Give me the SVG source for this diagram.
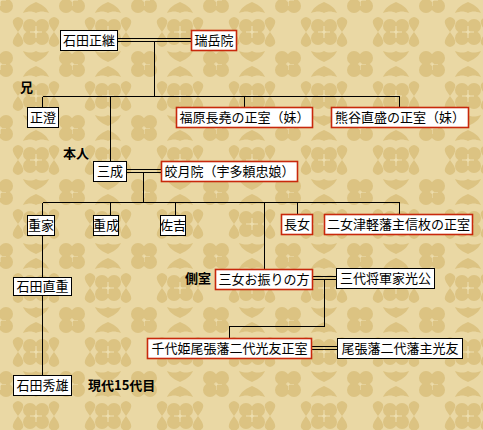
<svg xmlns="http://www.w3.org/2000/svg" width="483" height="430" viewBox="0 0 483 430">
<style>
.box{fill:#fff;stroke:#000;stroke-width:1}
.rbox{fill:#fff;stroke:#c8280c;stroke-width:1.6}
.t{font-family:"Noto Sans CJK JP","Noto Sans CJK SC",sans-serif;font-size:13px;fill:#000;text-anchor:middle}
.lbl{font-family:"Noto Sans CJK JP","Noto Sans CJK SC",serif;font-size:13px;font-weight:bold;fill:#000}
.ln{stroke:#000;stroke-width:1;fill:none;shape-rendering:crispEdges}
</style>
<defs>
<pattern id="bg" width="72" height="64" patternUnits="userSpaceOnUse">
<rect width="72" height="64" fill="#ead8a4"/>
<g fill="#dcc382">
<g id="fl"><circle cx="-6" cy="-6" r="7"/><circle cx="6" cy="-6" r="7"/><circle cx="-6" cy="6" r="7"/><circle cx="6" cy="6" r="7"/></g>
<use href="#fl" x="72" y="0"/><use href="#fl" x="0" y="64"/><use href="#fl" x="72" y="64"/>
<use href="#fl" x="36" y="32"/>
<path d="M18 32 c-7 -9 -7 -13 0 -15 c7 2 7 6 0 15z M54 32 c-7 -9 -7 -13 0 -15 c7 2 7 6 0 15z M18 32 c-7 9 -7 13 0 15 c7 -2 7 -6 0 -15z M54 32 c-7 9 -7 13 0 15 c7 -2 7 -6 0 -15z"/>
<path d="M36 2 c-9 4 -11 7 -13 11 c6 -2 9 -2 13 0 c4 -2 7 -2 13 0 c-2 -4 -4 -7 -13 -11z M36 62 c-9 -4 -11 -7 -13 -11 c6 2 9 2 13 0 c4 2 7 2 13 0 c-2 4 -4 7 -13 11z"/>
</g>
<g stroke="#efe0b2" stroke-width="1" fill="none">
<line x1="-6" y1="0" x2="6" y2="0"/><line x1="0" y1="-6" x2="0" y2="6"/>
<line x1="30" y1="32" x2="42" y2="32"/><line x1="36" y1="26" x2="36" y2="38"/>
</g>
</pattern>
</defs>
<rect width="483" height="430" fill="url(#bg)"/>

<g id="connectors" class="ln">
<line x1="118" y1="38.5" x2="191" y2="38.5"/>
<line x1="118" y1="41.5" x2="191" y2="41.5"/>
<line x1="154.5" y1="41.5" x2="154.5" y2="96.5"/>
<line x1="42.5" y1="96.5" x2="399.5" y2="96.5"/>
<line x1="42.5" y1="96.5" x2="42.5" y2="107"/>
<line x1="110.5" y1="96.5" x2="110.5" y2="161"/>
<line x1="244.5" y1="96.5" x2="244.5" y2="107"/>
<line x1="399.5" y1="96.5" x2="399.5" y2="107"/>
<line x1="127" y1="169.5" x2="161" y2="169.5"/>
<line x1="127" y1="172.5" x2="161" y2="172.5"/>
<line x1="143.5" y1="172.5" x2="143.5" y2="202.5"/>
<line x1="42.5" y1="202.5" x2="399.5" y2="202.5"/>
<line x1="42.5" y1="202.5" x2="42.5" y2="215"/>
<line x1="110.5" y1="202.5" x2="110.5" y2="215"/>
<line x1="175.5" y1="202.5" x2="175.5" y2="215"/>
<line x1="264.5" y1="202.5" x2="264.5" y2="269"/>
<line x1="297.5" y1="202.5" x2="297.5" y2="214"/>
<line x1="399.5" y1="202.5" x2="399.5" y2="214"/>
<line x1="42.5" y1="236" x2="42.5" y2="277"/>
<line x1="42.5" y1="295" x2="42.5" y2="375"/>
<line x1="313" y1="276.5" x2="336" y2="276.5"/>
<line x1="313" y1="279.5" x2="336" y2="279.5"/>
<polyline points="324.5,279.5 324.5,326.5 229.5,326.5 229.5,338"/>
<line x1="312" y1="346.5" x2="337" y2="346.5"/>
<line x1="312" y1="349.5" x2="337" y2="349.5"/>
</g>

<g id="n-masatsugu"><rect class="box" x="60.5" y="30.5" width="57" height="20"/><text class="t" x="89" y="45">石田正継</text></g>
<g id="n-zuigakuin"><rect class="rbox" x="191.5" y="30.5" width="45" height="20"/><text class="t" x="214" y="45">瑞岳院</text></g>
<g id="n-masazumi"><rect class="box" x="27.5" y="107.5" width="31" height="20"/><text class="t" x="43" y="122">正澄</text></g>
<g id="n-fukuhara"><rect class="rbox" x="176.5" y="107.5" width="136" height="20"/><text class="t" x="244.5" y="122">福原長堯の正室（妹）</text></g>
<g id="n-kumagai"><rect class="rbox" x="331.5" y="107.5" width="137" height="20"/><text class="t" x="400" y="122">熊谷直盛の正室（妹）</text></g>
<g id="n-mitsunari"><rect class="box" x="93.5" y="161.5" width="33" height="20"/><text class="t" x="110" y="176">三成</text></g>
<g id="n-kogetsuin"><rect class="rbox" x="161.5" y="161.5" width="136" height="20"/><text class="t" x="229.5" y="176">皎月院（宇多頼忠娘）</text></g>
<g id="n-shigeie"><rect class="box" x="27.5" y="215.5" width="27" height="20"/><text class="t" x="41" y="230">重家</text></g>
<g id="n-shigenari"><rect class="box" x="93.5" y="215.5" width="25" height="20"/><text class="t" x="106" y="230">重成</text></g>
<g id="n-sakichi"><rect class="box" x="160.5" y="215.5" width="25" height="20"/><text class="t" x="173" y="230">佐吉</text></g>
<g id="n-chojo"><rect class="rbox" x="281.5" y="214.5" width="31" height="20"/><text class="t" x="297" y="229">長女</text></g>
<g id="n-nijo"><rect class="rbox" x="324.5" y="214.5" width="148" height="20"/><text class="t" x="398.5" y="229">二女津軽藩主信枚の正室</text></g>
<g id="n-naoshige"><rect class="box" x="13.5" y="277.5" width="58" height="18"/><text class="t" x="42.5" y="291">石田直重</text></g>
<g id="n-ofuri"><rect class="rbox" x="215.5" y="269.5" width="97" height="20"/><text class="t" x="264" y="284">三女お振りの方</text></g>
<g id="n-iemitsu"><rect class="box" x="336.5" y="268.5" width="98" height="20"/><text class="t" x="385.5" y="283">三代将軍家光公</text></g>
<g id="n-chiyohime"><rect class="rbox" x="147.5" y="338.5" width="164" height="20"/><text class="t" x="229.5" y="353">千代姫尾張藩二代光友正室</text></g>
<g id="n-mitsutomo"><rect class="box" x="337.5" y="338.5" width="125" height="20"/><text class="t" x="400" y="353">尾張藩二代藩主光友</text></g>
<g id="n-hideo"><rect class="box" x="13.5" y="375.5" width="58" height="20"/><text class="t" x="42.5" y="390">石田秀雄</text></g>

<g id="labels">
<text class="lbl" x="20" y="92">兄</text>
<text class="lbl" x="63" y="158">本人</text>
<text class="lbl" x="185" y="283">側室</text>
<text class="lbl" x="88" y="390">現代15代目</text>
</g>
</svg>
